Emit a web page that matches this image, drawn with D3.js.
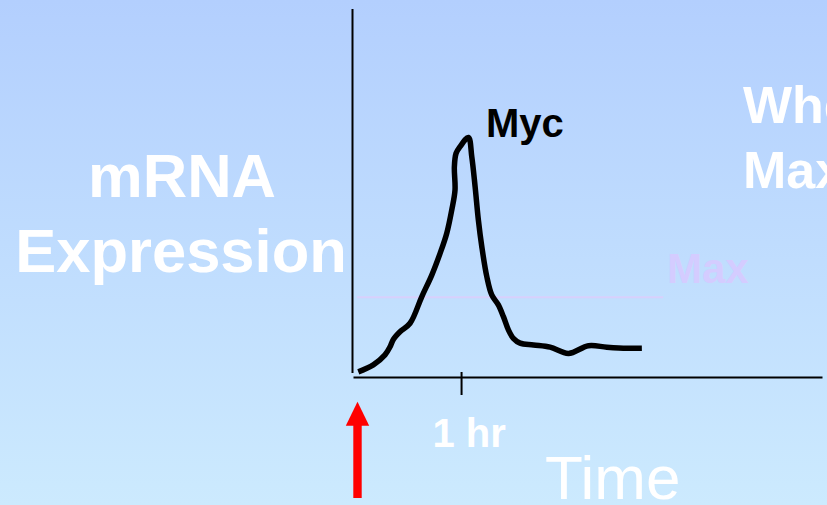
<!DOCTYPE html>
<html>
<head>
<meta charset="utf-8">
<script src="https://cdn.jsdelivr.net/npm/d3@7/dist/d3.min.js"></script>
<style>
  html, body { margin: 0; padding: 0; overflow: hidden; }
  svg { display: block; font-family: "Liberation Sans", Arial, sans-serif; }
</style>
</head>
<body>
<svg id="chart" width="827" height="505"></svg>
<script>
// Myc mRNA expression after stimulation (time in hours, arbitrary units)
const mycTime = [0.049, 0.188, 0.296, 0.343, 0.373, 0.435, 0.528, 0.636, 0.729, 0.806,
                 0.867, 0.914, 0.944, 0.938, 0.954, 0.991, 1.068, 1.099, 1.130, 1.160,
                 1.192, 1.238, 1.284, 1.345, 1.392, 1.438, 1.484, 1.546, 1.670, 1.824,
                 1.994, 2.179, 2.349, 2.534, 2.673];
const mycLevel = [1.4, 3.3, 6.0, 8.2, 10.2, 12.3, 14.6, 21.8, 27.7, 33.6,
                  39.0, 45.4, 50.8, 57.1, 60.8, 62.6, 65.1, 59.9, 51.7, 42.7,
                  35.4, 27.3, 22.3, 19.6, 16.4, 12.8, 10.5, 9.2, 8.7, 8.1,
                  6.4, 8.5, 8.1, 7.8, 7.8];
// reference "Max" level and its time span
const maxLevel = 21.7;
const maxSpan = [0.037, 2.87];
// axis ticks
const timeTicks = [1];
const timeTickLabels = ["1 hr"];

const svg = d3.select("#chart");
const W = 827, H = 505;

// background gradient
const defs = svg.append("defs");
const grad = defs.append("linearGradient").attr("id", "bg")
  .attr("x1", 0).attr("y1", 0).attr("x2", 0).attr("y2", 1);
grad.append("stop").attr("offset", "0%").attr("stop-color", "#b3cffe");
grad.append("stop").attr("offset", "100%").attr("stop-color", "#cceafe");
svg.append("rect").attr("width", W).attr("height", H).attr("fill", "url(#bg)");

const x = d3.scaleLinear().domain([0, 4.34]).range([353, 822]);
const y = d3.scaleLinear().domain([0, 100]).range([377, 9]);

// y axis line
svg.append("line")
  .attr("x1", 352.5).attr("x2", 352.5)
  .attr("y1", y(100)).attr("y2", y(1.1))
  .attr("stroke", "#000").attr("stroke-width", 2);

// x axis
const xAxis = d3.axisBottom(x).tickValues(timeTicks).tickSizeInner(18).tickSizeOuter(0).tickFormat("");
const gx = svg.append("g").attr("transform", `translate(0,${y(0)})`).call(xAxis);
gx.select(".domain").attr("stroke", "#000").attr("stroke-width", 2);
gx.selectAll(".tick line").attr("stroke", "#000").attr("stroke-width", 2).attr("y1", -5);

// tick labels
svg.selectAll(".tlabel").data(timeTicks).join("text")
  .attr("class", "tlabel")
  .attr("x", d => x(d) + 8).attr("y", 447)
  .attr("text-anchor", "middle")
  .attr("font-size", 40).attr("font-weight", "bold").attr("fill", "#fff")
  .text((d, i) => timeTickLabels[i]);

// Max reference line
svg.append("line")
  .attr("x1", x(maxSpan[0])).attr("x2", x(maxSpan[1]))
  .attr("y1", y(maxLevel)).attr("y2", y(maxLevel))
  .attr("stroke", "#d8d0fc").attr("stroke-width", 2);
svg.append("text")
  .attr("x", 667).attr("y", 283)
  .attr("font-size", 42).attr("font-weight", "bold").attr("fill", "#d4ccff")
  .text("Max");

// Myc curve
const line = d3.line()
  .x((d, i) => x(mycTime[i]))
  .y(d => y(d))
  .curve(d3.curveCatmullRom.alpha(0.5));
svg.append("path")
  .attr("d", line(mycLevel))
  .attr("fill", "none").attr("stroke", "#000")
  .attr("stroke-width", 5.5).attr("stroke-linejoin", "round").attr("stroke-linecap", "butt");

svg.append("text")
  .attr("x", 486).attr("y", 137)
  .attr("font-size", 40).attr("font-weight", "bold").attr("fill", "#000")
  .text("Myc");

// y axis title
const yTitle = svg.append("text")
  .attr("text-anchor", "middle").attr("font-size", 61.5).attr("font-weight", "bold").attr("fill", "#fff");
yTitle.append("tspan").attr("x", 182).attr("y", 197).text("mRNA");
yTitle.append("tspan").attr("x", 181).attr("y", 272).text("Expression");

// x axis title
svg.append("text")
  .attr("x", 545).attr("y", 499)
  .attr("font-size", 62).attr("fill", "#fff")
  .text("Time");

// side heading (runs past the right edge)
const side = svg.append("text")
  .attr("font-size", 52).attr("font-weight", "bold").attr("fill", "#fff");
side.append("tspan").attr("x", 743).attr("y", 123).text("When");
side.append("tspan").attr("x", 743).attr("y", 188).text("Max");

// stimulus arrow
const ax = 357.5;
svg.append("rect")
  .attr("x", ax - 4.2).attr("y", 424).attr("width", 8.4).attr("height", 74)
  .attr("fill", "#ff0000");
svg.append("path")
  .attr("d", `M${ax - 11.7},425.7 L${ax},401.7 L${ax + 11.7},425.7 Z`)
  .attr("fill", "#ff0000");
</script>
</body>
</html>
